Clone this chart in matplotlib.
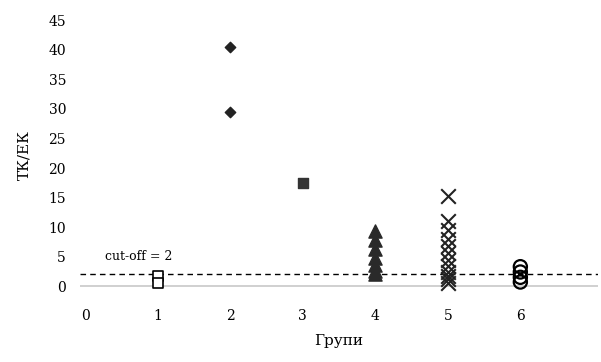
import matplotlib
matplotlib.use("Agg")
import matplotlib.pyplot as plt

# values
g1 = [1.8, 0.6]
g2 = [40.5, 29.5]
g3 = [17.5]
g4 = [9.3, 7.8, 6.3, 4.8, 3.5, 2.6, 2.0]
g5 = [15.2, 11.0, 9.5, 8.0, 6.8, 5.6, 4.4, 3.4, 2.4, 1.8, 1.2, 0.6]
g6 = [3.3, 2.4, 1.5, 0.7]
cutoff = 2
xticks = [0, 1, 2, 3, 4, 5, 6]
yticks = [0, 5, 10, 15, 20, 25, 30, 35, 40, 45]

plt.rcParams['font.family'] = ['DejaVu Serif']

fig = plt.figure(figsize=(6.01, 3.62), dpi=100)
ax = fig.add_axes([0.133, 0.185, 0.862, 0.775])

ax.axhline(0, color='#c8c8c8', lw=1.2, zorder=1)
ax.axhline(cutoff, color='black', lw=1.0, ls=(0, (4, 3)), zorder=2)
ax.text(0.27, 5.0, 'cut-off = 2', fontsize=9, ha='left', va='center')

ax.scatter([1] * len(g1), g1, marker='s', s=55, facecolors='white', edgecolors='black', lw=1.2, zorder=3)
ax.scatter([2] * len(g2), g2, marker='D', s=28, color='#222222', zorder=3)
ax.scatter([3] * len(g3), g3, marker='s', s=50, color='#333333', zorder=3)
ax.scatter([4] * len(g4), g4, marker='^', s=90, color='#2a2a2a', zorder=3)
ax.scatter([5] * len(g5), g5, marker='x', s=110, color='#222222', lw=1.5, zorder=3)
ax.scatter([6] * len(g6), g6, marker='o', s=90, facecolors='none', edgecolors='black', lw=1.6, zorder=3)

ax.set_xlim(-0.07, 7.07)
ax.set_ylim(-1.5, 46)
ax.set_xticks(xticks)
ax.set_yticks(yticks)
ax.tick_params(length=0, labelsize=10, pad=10)
for s in ax.spines.values():
    s.set_visible(False)

ax.set_xlabel('Групи', fontsize=11, labelpad=8)
ax.set_ylabel('ТК/ЕК', fontsize=11, labelpad=12)

fig.savefig('out.png', dpi=100)
